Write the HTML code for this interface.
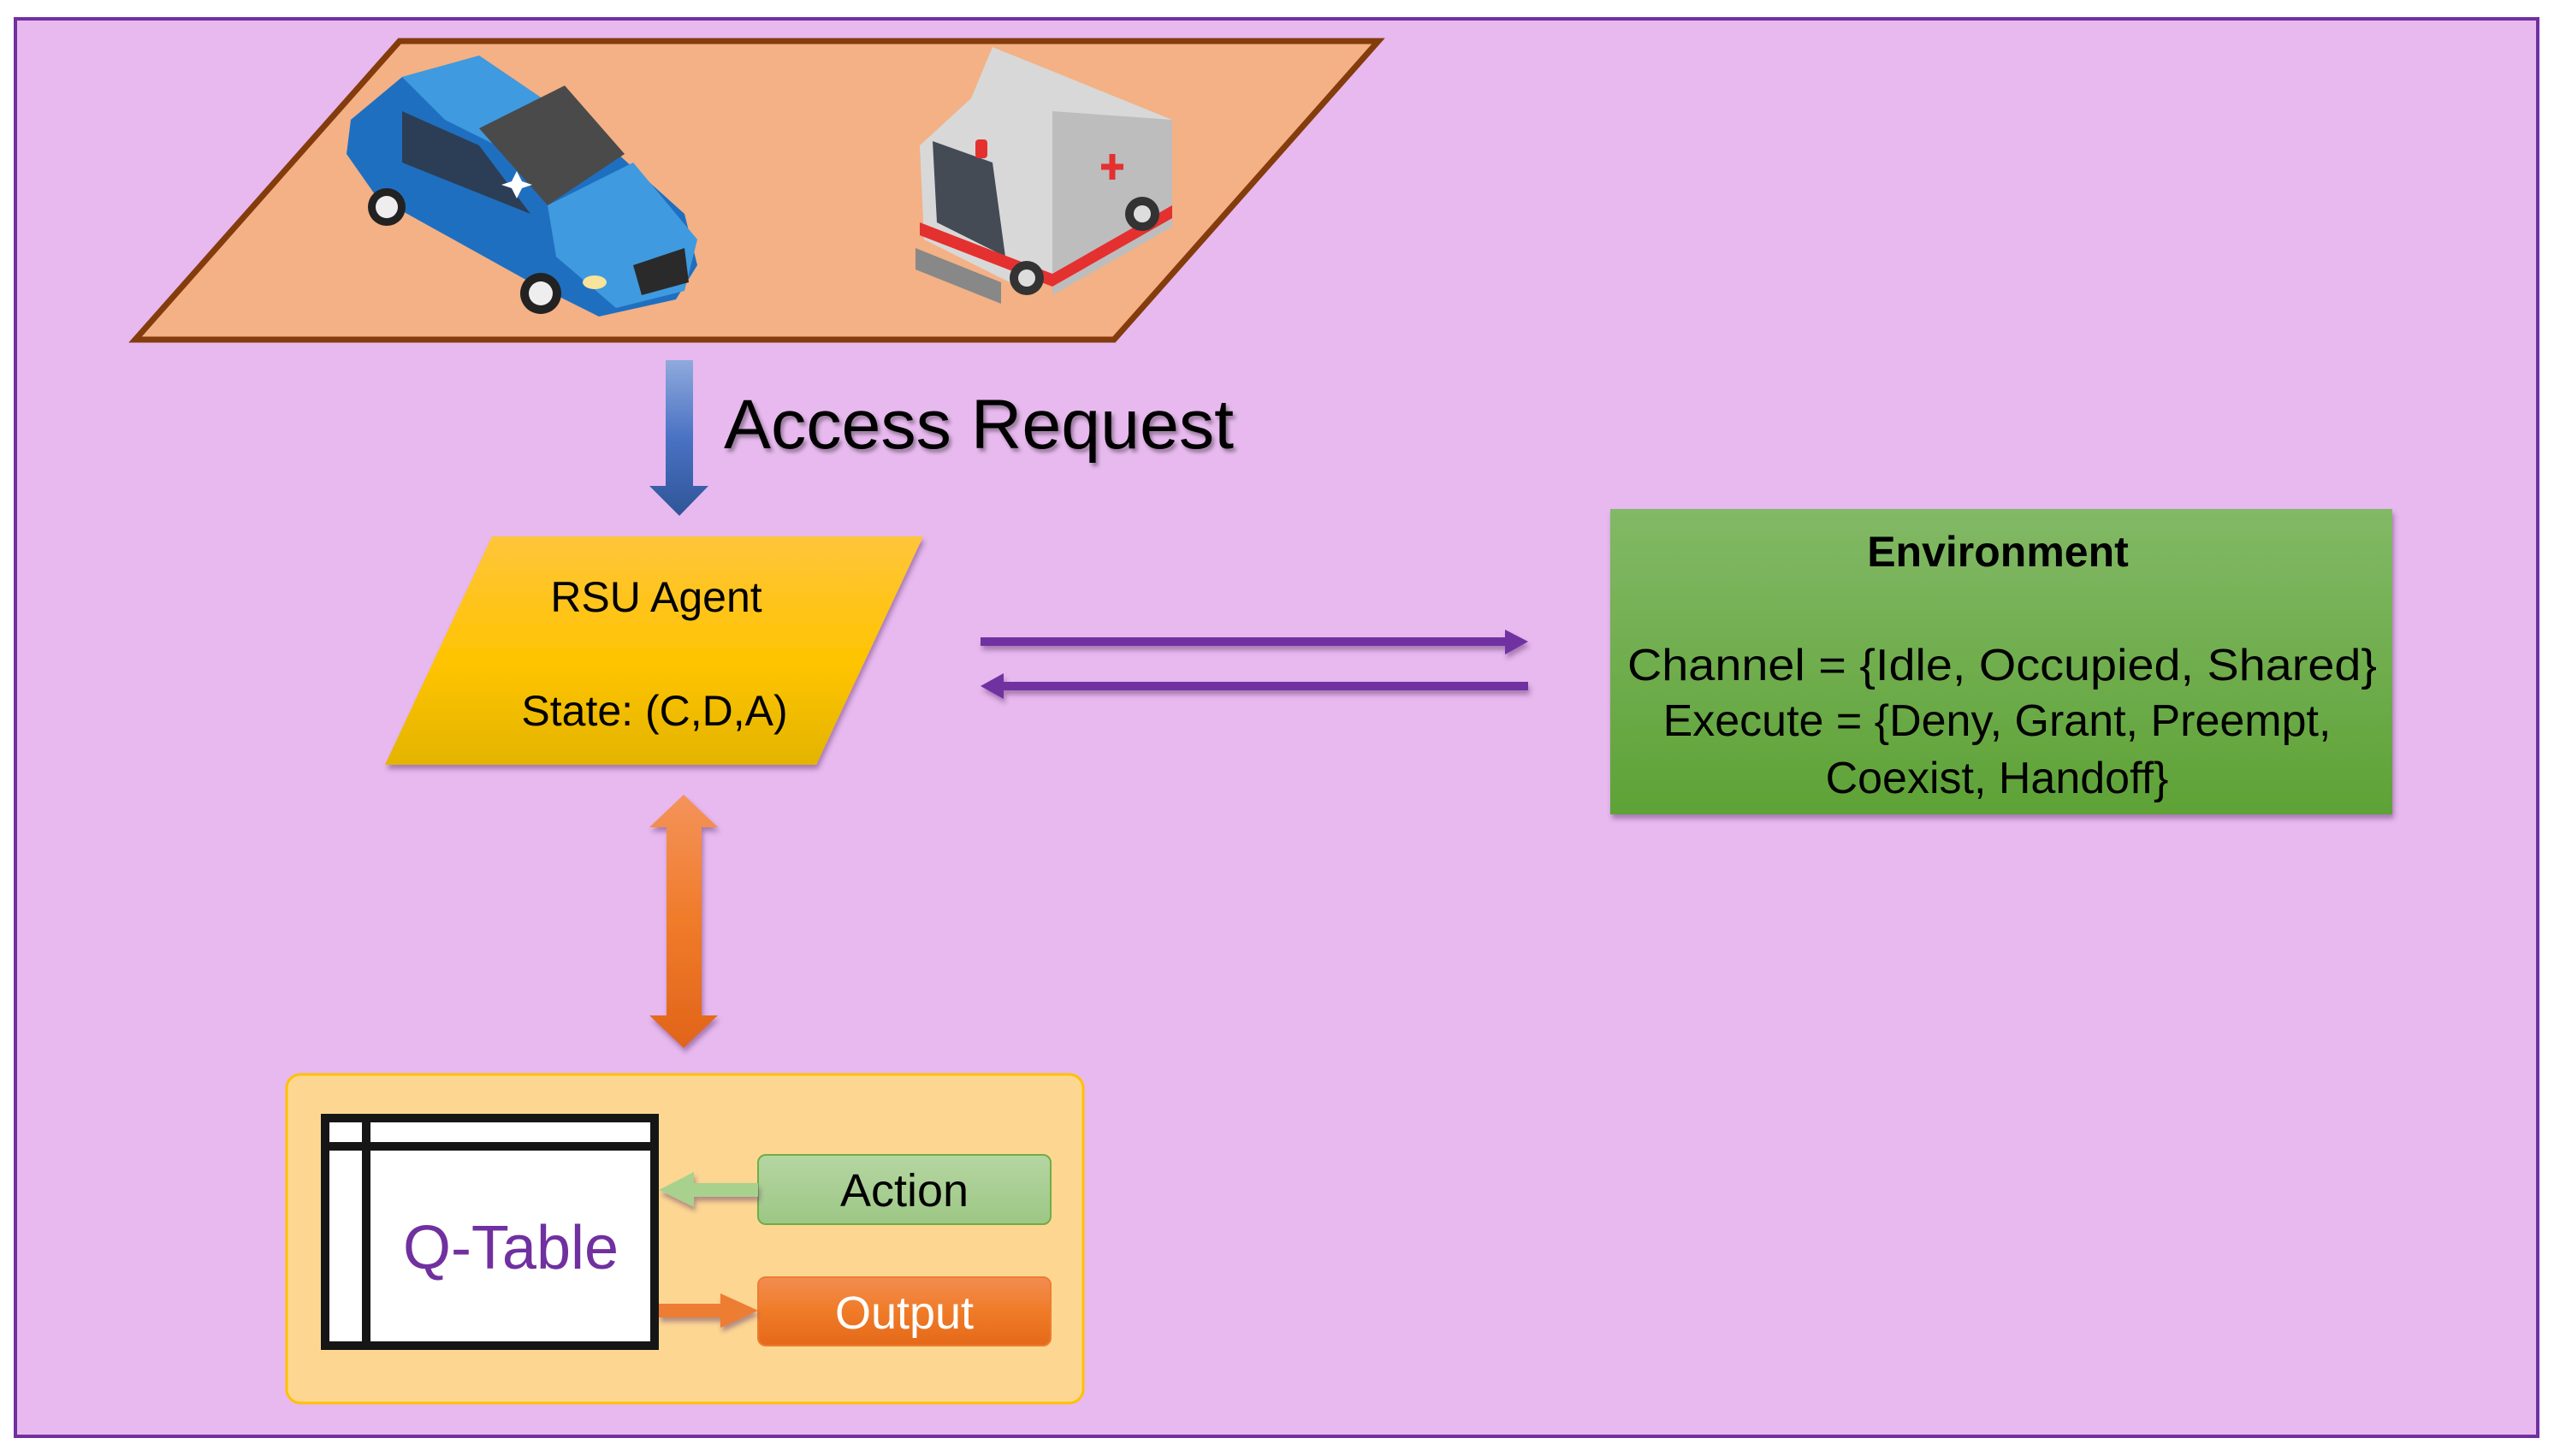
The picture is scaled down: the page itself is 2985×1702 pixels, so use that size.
<!DOCTYPE html>
<html><head><meta charset="utf-8"><style>
html,body{margin:0;padding:0;background:#fff}
svg{display:block}
text{font-family:"Liberation Sans",sans-serif}
</style></head><body>
<svg width="2985" height="1702" viewBox="0 0 2985 1702" xmlns="http://www.w3.org/2000/svg">
<defs>
<linearGradient id="gold" x1="0" y1="0" x2="0" y2="1"><stop offset="0" stop-color="#FFC53A"/><stop offset="0.55" stop-color="#FFC400"/><stop offset="1" stop-color="#E3B400"/></linearGradient>
<linearGradient id="green" x1="0" y1="0" x2="0" y2="1"><stop offset="0" stop-color="#82B966"/><stop offset="1" stop-color="#5EA236"/></linearGradient>
<linearGradient id="blueA" x1="0" y1="0" x2="0" y2="1"><stop offset="0" stop-color="#8FAADC"/><stop offset="0.5" stop-color="#4A72C4"/><stop offset="1" stop-color="#2F5597"/></linearGradient>
<linearGradient id="orA" x1="0" y1="0" x2="0" y2="1"><stop offset="0" stop-color="#F4935A"/><stop offset="0.5" stop-color="#F07B2A"/><stop offset="1" stop-color="#E0641A"/></linearGradient>
<linearGradient id="act" x1="0" y1="0" x2="0" y2="1"><stop offset="0" stop-color="#B5D6A2"/><stop offset="1" stop-color="#9DC785"/></linearGradient>
<linearGradient id="out" x1="0" y1="0" x2="0" y2="1"><stop offset="0" stop-color="#F28D52"/><stop offset="0.5" stop-color="#F07B27"/><stop offset="1" stop-color="#E4691A"/></linearGradient>
<filter id="sh" x="-10%" y="-10%" width="130%" height="140%"><feDropShadow dx="2" dy="5" stdDeviation="3" flood-color="#5a2a6a" flood-opacity="0.45"/></filter>
<filter id="tsh" x="-5%" y="-10%" width="115%" height="130%"><feDropShadow dx="3" dy="4" stdDeviation="2" flood-color="#000" flood-opacity="0.35"/></filter>
</defs>
<rect x="0" y="0" width="2985" height="1702" fill="#fff"/>
<rect x="18" y="22" width="2948" height="1657" fill="#E7B9EE" stroke="#7030A0" stroke-width="4"/>

<polygon points="467,48 1611,48 1302,397 158,397" fill="#F3B185" stroke="#843C0C" stroke-width="7"/>

<!-- car -->
<g>
<polygon points="470,90 560,65 700,160 800,250 815,310 790,350 700,370 620,330 440,230 405,180 410,140" fill="#1F6FC1"/>
<polygon points="470,90 560,65 700,160 640,200 520,140" fill="#3F9ADF"/>
<polygon points="560,150 660,100 730,180 640,240" fill="#4A4A4A"/>
<polygon points="470,130 560,170 620,250 470,190" fill="#2C3E55"/>
<polygon points="640,240 740,190 815,280 800,340 720,360 650,300" fill="#3F9ADF"/>
<polygon points="740,310 800,290 805,330 750,345" fill="#2a2a2a"/>
<circle cx="452" cy="242" r="22" fill="#222"/><circle cx="452" cy="242" r="13" fill="#eee"/>
<circle cx="632" cy="343" r="24" fill="#222"/><circle cx="632" cy="343" r="14" fill="#eee"/>
<polygon points="604,200 610,212 622,216 610,220 604,232 598,220 586,216 598,212" fill="#fff"/>
<ellipse cx="695" cy="330" rx="14" ry="8" fill="#F7E39A"/>
</g>
<!-- ambulance -->
<g>
<polygon points="1160,55 1370,140 1370,230 1200,340 1080,280 1075,170 1135,115" fill="#D8D8D8"/>
<polygon points="1230,130 1370,140 1370,265 1230,345" fill="#BDBDBD"/>
<polygon points="1090,165 1160,190 1175,300 1095,260" fill="#444B55"/>
<polygon points="1075,260 1230,320 1370,240 1370,255 1230,335 1075,275" fill="#E53030"/>
<polygon points="1070,290 1170,330 1170,355 1070,315" fill="#888"/>
<rect x="1140" y="163" width="14" height="22" rx="4" fill="#E53030"/>
<path d="M1300,180 v30 M1287,195 h26" stroke="#E53030" stroke-width="7"/>
<circle cx="1200" cy="325" r="20" fill="#333"/><circle cx="1200" cy="325" r="10" fill="#ddd"/>
<circle cx="1335" cy="250" r="20" fill="#333"/><circle cx="1335" cy="250" r="10" fill="#ddd"/>
</g>

<polygon points="778,421 810,421 810,568 828,568 794,603 759,568 778,568" fill="url(#blueA)"/>
<text x="846" y="524" font-size="82" fill="#000" filter="url(#tsh)" textLength="596" lengthAdjust="spacingAndGlyphs">Access Request</text>

<polygon points="575,627 1079,627 954,894 450,894" fill="url(#gold)" filter="url(#sh)"/>
<text x="767" y="715" font-size="50" text-anchor="middle" fill="#000">RSU Agent</text>
<text x="765" y="848" font-size="50" text-anchor="middle" fill="#000">State: (C,D,A)</text>

<g filter="url(#sh)">
<polygon points="1146,745 1759,745 1759,736 1786,750 1759,765 1759,755 1146,755" fill="#7030A0"/>
<polygon points="1786,797 1173,797 1173,787 1146,802 1173,817 1173,807 1786,807" fill="#7030A0"/>
</g>

<rect x="1882" y="595" width="914" height="357" fill="url(#green)" filter="url(#sh)"/>
<text x="2335" y="662" font-size="50" font-weight="bold" text-anchor="middle" fill="#000">Environment</text>
<text x="2340" y="795" font-size="52" text-anchor="middle" fill="#000" textLength="876" lengthAdjust="spacingAndGlyphs">Channel  = {Idle, Occupied, Shared}</text>
<text x="2334" y="860" font-size="52" text-anchor="middle" fill="#000">Execute  = {Deny, Grant, Preempt,</text>
<text x="2334" y="927" font-size="52" text-anchor="middle" fill="#000">Coexist, Handoff}</text>

<polygon points="799,929 839,967 820,967 820,1187 839,1187 799,1225 759,1187 779,1187 779,967 759,967" fill="url(#orA)" filter="url(#sh)"/>

<rect x="335" y="1256" width="931" height="384" rx="16" fill="#FDD792" stroke="#FFC000" stroke-width="3"/>
<rect x="380" y="1307" width="385" height="266" fill="#fff" stroke="#161616" stroke-width="10"/>
<rect x="375" y="1335" width="395" height="10" fill="#161616"/>
<rect x="423" y="1302" width="10" height="276" fill="#161616"/>
<text x="597" y="1483" font-size="72" text-anchor="middle" fill="#7030A0">Q-Table</text>

<rect x="886" y="1350" width="342" height="81" rx="9" fill="url(#act)" stroke="#70AD47" stroke-width="2"/>
<text x="1057" y="1410" font-size="54" text-anchor="middle" fill="#000">Action</text>
<rect x="886" y="1493" width="342" height="80" rx="9" fill="url(#out)" stroke="#ED7D31" stroke-width="2"/>
<text x="1057" y="1553" font-size="54" text-anchor="middle" fill="#fff">Output</text>
<polygon points="886,1383 811,1383 811,1370 770,1391 811,1411 811,1399 886,1399" fill="#A9D18E" filter="url(#sh)"/>
<polygon points="770,1524 842,1524 842,1512 886,1532 842,1552 842,1540 770,1540" fill="#ED7D31" filter="url(#sh)"/>
</svg>
</body></html>
